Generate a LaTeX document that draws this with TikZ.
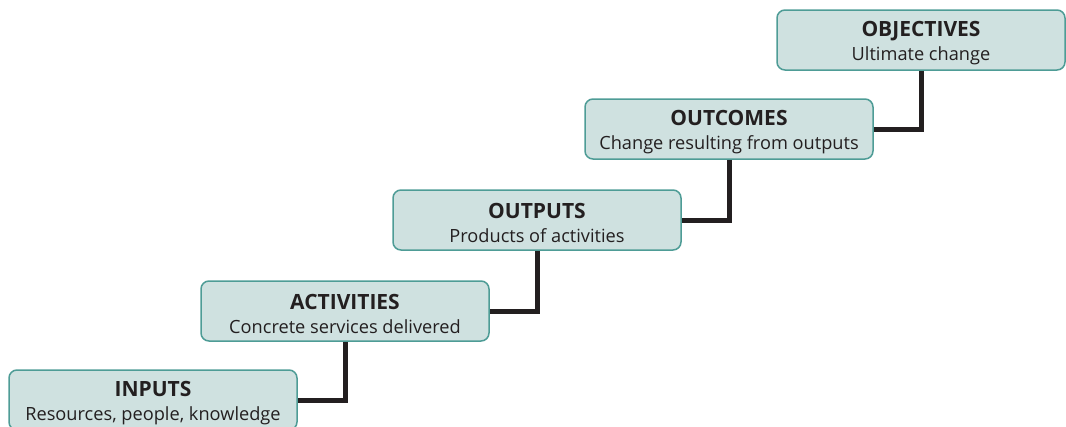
\documentclass[tikz,border=0pt]{standalone}
\usepackage{fontspec}
\setmainfont{Open Sans}
\definecolor{boxfill}{HTML}{CFE1E0}
\definecolor{boxdraw}{HTML}{4E9C96}
\definecolor{txt}{HTML}{231F20}
\newcommand{\ttl}[1]{{\fontsize{21}{24}\selectfont\bfseries\rule{0pt}{21pt}#1}}
\begin{document}
\begin{tikzpicture}[x=1pt,y=-1pt,
  stage/.style={draw=boxdraw, fill=boxfill, line width=1.5pt, rounded corners=8pt,
    minimum width=288pt, minimum height=60pt, align=center, inner sep=0pt,
    text=txt, font=\fontsize{18.2}{24}\selectfont},
  conn/.style={line width=5pt, draw=txt}]
\clip (0,0) rectangle (1066,426);
\useasboundingbox (0,0) rectangle (1066,426);
\node[stage] (inp) at (153,400) {\ttl{INPUTS}\\Resources, people, knowledge};
\node[stage] (act) at (345,311) {\ttl{ACTIVITIES}\\Concrete services delivered};
\node[stage] (outp) at (537,220) {\ttl{OUTPUTS}\\Products of activities};
\node[stage] (outc) at (729,129) {\ttl{OUTCOMES}\\Change resulting from outputs};
\node[stage] (obj) at (921,40) {\ttl{OBJECTIVES}\\Ultimate change};
\draw[conn] (act.south) |- (inp.east);
\draw[conn] (outp.south) |- (act.east);
\draw[conn] (outc.south) |- (outp.east);
\draw[conn] (obj.south) |- (outc.east);
\end{tikzpicture}
\end{document}
